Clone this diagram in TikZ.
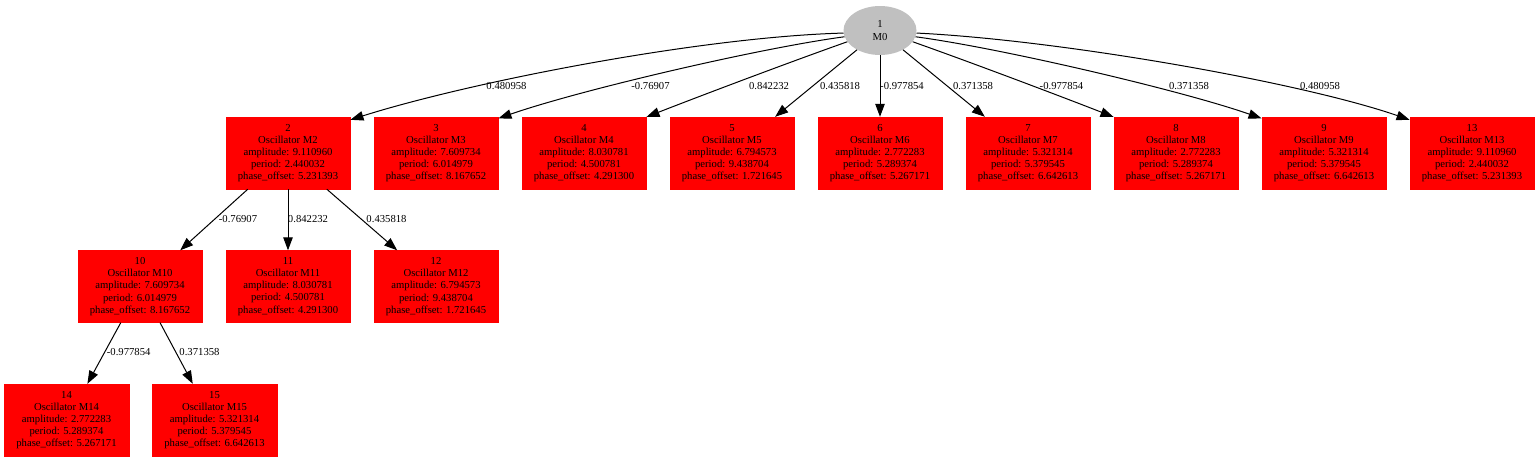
\documentclass[tikz,border=0pt]{standalone}
\usepackage{fontspec}
\setmainfont{Liberation Serif}
\usetikzlibrary{arrows.meta,shapes.geometric}
\definecolor{graynode}{RGB}{192,192,192}
\tikzset{
  gvfont/.style={font=\fontsize{10.67}{12.1}\selectfont},
  osc/.style={rectangle, fill=red, draw=red, line width=0.4pt, minimum width=124.5pt,
    minimum height=72pt, inner sep=0pt, align=center, gvfont},
  rootnode/.style={ellipse, fill=graynode, minimum width=73pt, minimum height=49pt,
    inner sep=0pt, align=center, gvfont},
  conn/.style={draw=black, line width=1pt, -{Triangle[length=13pt,width=9.5pt]}},
  elabel/.style={inner sep=0pt, gvfont}
}
\newcommand{\osctext}[5]{#1\\Oscillator #2\\amplitude: #3\\period: #4\\phase\_offset: #5}
\begin{document}
\begin{tikzpicture}[x=1pt,y=-1pt]
\useasboundingbox (0,0) rectangle (1539,461);
% root
\node[rootnode] (n1) at (880,30.5) {1\\M0};
% row 1
\node[osc] (n2) at (288,153) {\osctext{2}{M2}{9.110960}{2.440032}{5.231393}};
\node[osc] (n3) at (436,153) {\osctext{3}{M3}{7.609734}{6.014979}{8.167652}};
\node[osc] (n4) at (584,153) {\osctext{4}{M4}{8.030781}{4.500781}{4.291300}};
\node[osc] (n5) at (732,153) {\osctext{5}{M5}{6.794573}{9.438704}{1.721645}};
\node[osc] (n6) at (880,153) {\osctext{6}{M6}{2.772283}{5.289374}{5.267171}};
\node[osc] (n7) at (1028,153) {\osctext{7}{M7}{5.321314}{5.379545}{6.642613}};
\node[osc] (n8) at (1176,153) {\osctext{8}{M8}{2.772283}{5.289374}{5.267171}};
\node[osc] (n9) at (1324,153) {\osctext{9}{M9}{5.321314}{5.379545}{6.642613}};
\node[osc] (n13) at (1472,153) {\osctext{13}{M13}{9.110960}{2.440032}{5.231393}};
% row 2
\node[osc] (n10) at (140,286.5) {\osctext{10}{M10}{7.609734}{6.014979}{8.167652}};
\node[osc] (n11) at (288,286.5) {\osctext{11}{M11}{8.030781}{4.500781}{4.291300}};
\node[osc] (n12) at (436,286.5) {\osctext{12}{M12}{6.794573}{9.438704}{1.721645}};
% row 3
\node[osc] (n14) at (66.5,420) {\osctext{14}{M14}{2.772283}{5.289374}{5.267171}};
\node[osc] (n15) at (214.5,420) {\osctext{15}{M15}{5.321314}{5.379545}{6.642613}};
% edges from root
\draw[conn] (n1.184) .. controls (700,37) and (470,82) .. (n2.28)
  node[elabel] at (506.5,86) {0.480958};
\draw[conn] (n1.190) .. controls (760,48) and (580,90) .. (n3.29)
  node[elabel] at (650.5,86) {-0.76907};
\draw[conn] (n1.199) .. controls (790,62) and (700,96) .. (n4.30)
  node[elabel] at (769,86) {0.842232};
\draw[conn] (n1.220) -- (n5.40)
  node[elabel] at (840,86) {0.435818};
\draw[conn] (n1.south) -- (n6.north)
  node[elabel] at (902,86) {-0.977854};
\draw[conn] (n1.320) -- (n7.140)
  node[elabel] at (973,86) {0.371358};
\draw[conn] (n1.341) .. controls (970,62) and (1060,96) .. (n8.150)
  node[elabel] at (1061.5,86) {-0.977854};
\draw[conn] (n1.350) .. controls (1000,48) and (1180,90) .. (n9.151)
  node[elabel] at (1189,86) {0.371358};
\draw[conn] (n1.356) .. controls (1060,40) and (1300,82) .. (n13.152)
  node[elabel] at (1320,86) {0.480958};
% edges from node 2
\draw[conn] (n2.222) -- (n10.42)
  node[elabel] at (238,219) {-0.76907};
\draw[conn] (n2.south) -- (n11.north)
  node[elabel] at (308,219) {0.842232};
\draw[conn] (n2.317) -- (n12.137)
  node[elabel] at (386.5,219) {0.435818};
% edges from node 10
\draw[conn] (n10.242) -- (n14.60)
  node[elabel] at (128.7,352) {-0.977854};
\draw[conn] (n10.299) -- (n15.121)
  node[elabel] at (199.5,352) {0.371358};
\end{tikzpicture}
\end{document}
